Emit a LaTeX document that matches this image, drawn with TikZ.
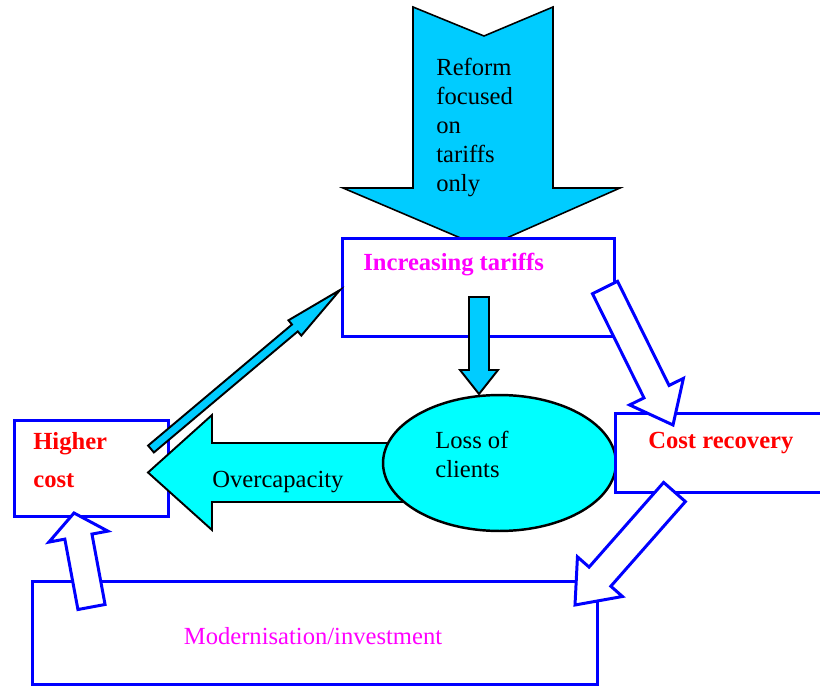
\documentclass[tikz,border=0pt]{standalone}
\usepackage{fontspec}
\setmainfont{Liberation Serif}
\usetikzlibrary{calc,shapes.geometric}
\definecolor{sky}{RGB}{0,204,255}
\definecolor{aqua}{RGB}{0,255,255}
\definecolor{tmag}{RGB}{255,0,255}
\definecolor{tred}{RGB}{255,0,0}
\def\px{0.569pt}
% [style]{tail}{tip}{half shaft}{half head}{head length}, sizes in px
\newcommand{\blockarrow}[6][]{%
  \draw[#1] let \p1=(#2), \p2=(#3),
      \n1={atan2(\y2-\y1,\x2-\x1)},
      \n2={veclen(\x2-\x1,\y2-\y1)-#6*\px} in
    ($(\p1)+(\n1+90:#4*\px)$)
    -- ($(\p1)+(\n1:\n2)+(\n1+90:#4*\px)$)
    -- ($(\p1)+(\n1:\n2)+(\n1+90:#5*\px)$)
    -- (\p2)
    -- ($(\p1)+(\n1:\n2)+(\n1-90:#5*\px)$)
    -- ($(\p1)+(\n1:\n2)+(\n1-90:#4*\px)$)
    -- ($(\p1)+(\n1-90:#4*\px)$) -- cycle;}
\begin{document}
\begin{tikzpicture}[x=0.02cm, y=-0.02cm, font=\fontsize{14}{16.5}\selectfont,
    bluebox/.style={draw=blue, line width=1.7pt, fill=white, inner sep=0pt},
    cyanarrow/.style={draw=black, line width=1.1pt, fill=sky},
    whitearrow/.style={draw=blue, line width=1.7pt, fill=white},
    txt/.style={inner sep=0pt, anchor=base west},
    boldtxt/.style={txt, font=\fontsize{14}{16.5}\selectfont\bfseries}]
  \useasboundingbox (0,0) rectangle (820,688);
  \clip (0,0) rectangle (820,688);

  \draw [cyanarrow, line width=0.9pt] (413,7) -- (484,36) -- (553,7) -- (553,188) -- (620,188)
    -- (484,248) -- (343,188) -- (413,188) -- cycle;
  \node [txt, anchor=north west, align=left] (reform) at (436,58) {Reform\\focused\\on\\tariffs\\only};

  \node [bluebox, minimum width=273*\px, minimum height=99*\px] (tariffs) at (478.5,287.5) {};
  \node [boldtxt, text=tmag] (tariffstxt) at (363,271) {Increasing tariffs};

  \coordinate (tl0) at (479,297);
  \coordinate (tl1) at (479,394);
  \blockarrow[cyanarrow]{tl0}{tl1}{10}{19}{24}

  \node [bluebox, minimum width=155*\px, minimum height=97*\px] (higher) at (91.5,468.5) {};
  \node [boldtxt, anchor=north west, align=left, text=tred] (highertxt) at (33,432) {Higher\\[5pt]cost};

  \coordinate (lh0) at (430,472.5);
  \coordinate (lh1) at (148,472.5);
  \blockarrow[cyanarrow, fill=aqua]{lh0}{lh1}{29.5}{57.5}{64}

  \node [ellipse, draw=black, line width=1.4pt, fill=aqua, inner sep=0pt,
    minimum width=233*\px, minimum height=136*\px] (loss) at (499.5,463) {};
  \node [txt, anchor=north west, align=left] (losstxt) at (435,431) {Loss of\\clients};
  \node [txt] (overtxt) at (212,487) {Overcapacity};

  \coordinate (ht0) at (151,449);
  \coordinate (ht1) at (340,290);
  \blockarrow[cyanarrow]{ht0}{ht1}{4.5}{10}{59}

  \node [bluebox, minimum width=235*\px, minimum height=80*\px] (recovery) at (732.5,453) {};
  \node [boldtxt, text=tred] (recoverytxt) at (648,448) {Cost recovery};

  \node [bluebox, minimum width=566*\px, minimum height=104*\px] (invest) at (315,633) {};
  \node [txt, anchor=base, text=tmag] (investtxt) at (313,644) {Modernisation/investment};

  \coordinate (tr0) at (605,287.5);
  \coordinate (tr1) at (673,425);
  \blockarrow[whitearrow]{tr0}{tr1}{14}{30}{37}

  \coordinate (ri0) at (674.5,492);
  \coordinate (ri1) at (575,605);
  \blockarrow[whitearrow]{ri0}{ri1}{14.5}{30}{37.5}

  \coordinate (ih0) at (91.5,607);
  \coordinate (ih1) at (74,513);
  \blockarrow[whitearrow]{ih0}{ih1}{13.8}{30}{24}
\end{tikzpicture}
\end{document}
